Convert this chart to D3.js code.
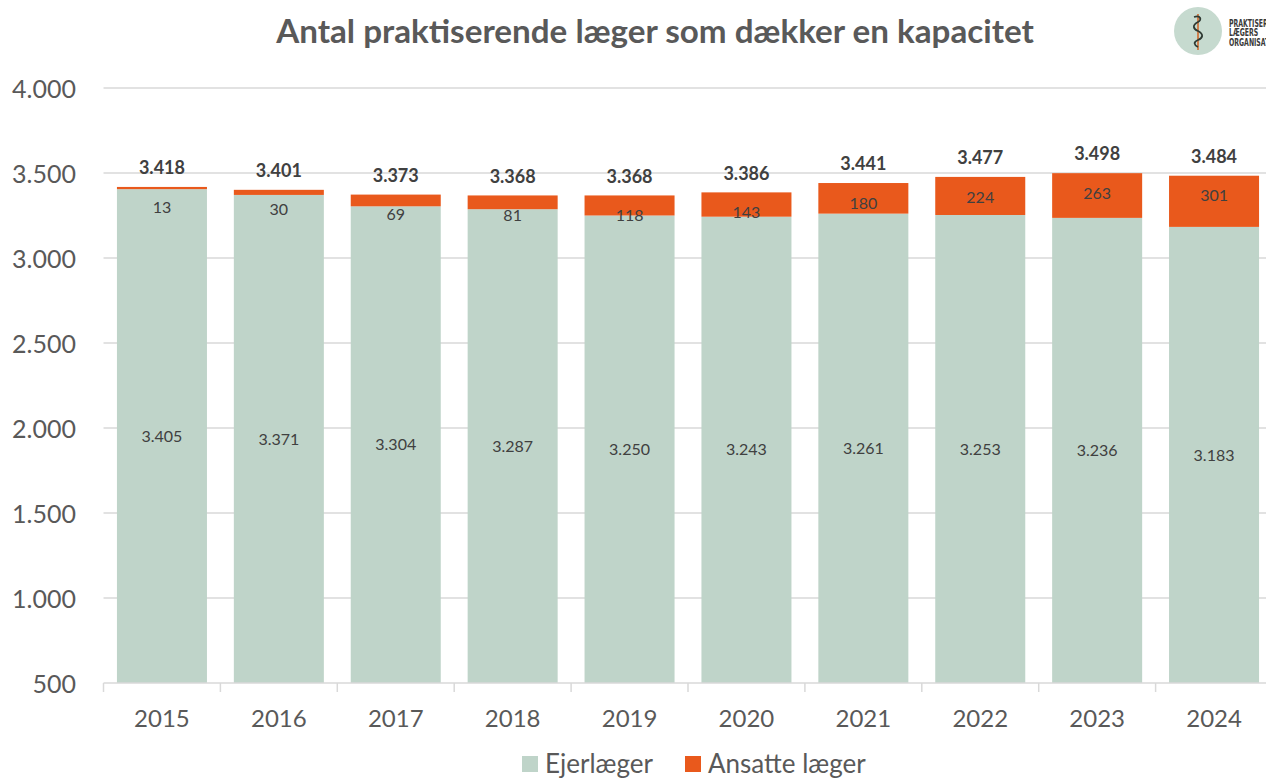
<!DOCTYPE html>
<html>
<head>
<meta charset="utf-8">
<script src="https://cdn.jsdelivr.net/npm/d3@7"></script>
<style>
  html, body { margin: 0; padding: 0; background: #fff; overflow: hidden; }
  svg { display: block; font-family: Lato, "Open Sans", sans-serif; }
</style>
</head>
<body>
<svg id="chart" width="1266" height="778"></svg>
<script>
// * chart data
const years = ['2015', '2016', '2017', '2018', '2019', '2020', '2021', '2022', '2023', '2024'];
const ejerlaeger = [3405, 3371, 3304, 3287, 3250, 3243, 3261, 3253, 3236, 3183];
const ansatte = [13, 30, 69, 81, 118, 143, 180, 224, 263, 301];
const totals = [3418, 3401, 3373, 3368, 3368, 3386, 3441, 3477, 3498, 3484];
const yTicks = [500, 1000, 1500, 2000, 2500, 3000, 3500, 4000];
const seriesNames = ['Ejerlæger', 'Ansatte læger'];

const colors = { ejer: '#bfd4c9', ansat: '#e9591c', text: '#595959', label: '#404040', grid: '#d9d9d9' };

const plot = { left: 103.5, right: 1272.5, top: 88, bottom: 683 };

// danish number format 3.418
const dk = d3.formatLocale({ decimal: ',', thousands: '.', grouping: [3], currency: ['', ' kr'] });
const fmt = dk.format(',d');

const svg = d3.select('#chart');

const xScale = d3.scaleBand()
  .domain(years)
  .range([plot.left, plot.right])
  .paddingInner(0.23)
  .paddingOuter(0.115);

const yScale = d3.scaleLinear()
  .domain([500, 4000])
  .range([plot.bottom, plot.top]);

// title
svg.append('text')
  .attr('x', 655).attr('y', 43)
  .attr('text-anchor', 'middle')
  .attr('font-size', 33.2).attr('font-weight', 700)
  .attr('fill', colors.text)
  .text('Antal praktiserende læger som dækker en kapacitet');

// gridlines
svg.append('g')
  .selectAll('line')
  .data(yTicks.filter((d) => d > 500))
  .enter()
  .append('line')
  .attr('x1', plot.left).attr('x2', 1266)
  .attr('y1', (d) => yScale(d)).attr('y2', (d) => yScale(d))
  .attr('stroke', colors.grid).attr('stroke-width', 1.5);

// y axis (labels only)
const yAxis = d3.axisLeft(yScale)
  .tickValues(yTicks)
  .tickSize(0)
  .tickPadding(0)
  .tickFormat(fmt);
const yAxisG = svg.append('g')
  .attr('transform', `translate(76,0)`)
  .call(yAxis);
yAxisG.select('.domain').remove();
yAxisG.selectAll('text')
  .attr('font-size', 25).attr('font-family', 'Lato, sans-serif')
  .attr('fill', colors.text).attr('dy', '0.36em');

// stacked bars
const stackData = years.map((y, i) => ({ year: y, ejer: ejerlaeger[i], ansat: ansatte[i], total: totals[i] }));
const stack = d3.stack().keys(['ejer', 'ansat'])(stackData);
const fills = [colors.ejer, colors.ansat];

svg.append('g')
  .selectAll('g')
  .data(stack)
  .enter()
  .append('g')
  .attr('fill', (d, i) => fills[i])
  .selectAll('rect')
  .data((d) => d)
  .enter()
  .append('rect')
  .attr('x', (d) => xScale(d.data.year))
  .attr('width', xScale.bandwidth())
  .attr('y', (d) => yScale(d[1]))
  .attr('height', (d) => yScale(Math.max(d[0], 500)) - yScale(d[1]));

// x axis
const xAxis = d3.axisBottom(xScale).tickSize(0).tickPadding(0);
const xAxisG = svg.append('g')
  .attr('transform', `translate(0,${plot.bottom})`)
  .call(xAxis);
xAxisG.select('.domain').remove();
xAxisG.selectAll('text')
  .attr('font-size', 24).attr('font-family', 'Lato, sans-serif')
  .attr('fill', colors.text).attr('y', 44).attr('dy', 0);

xAxisG.append('line')
  .attr('x1', plot.left).attr('x2', 1266)
  .attr('y1', 0).attr('y2', 0)
  .attr('stroke', colors.grid).attr('stroke-width', 1.5);

// boundary tick marks between categories
const step = xScale.step();
xAxisG.selectAll('.sep')
  .data(d3.range(years.length + 1))
  .enter()
  .append('line')
  .attr('x1', (i) => plot.left + i * step).attr('x2', (i) => plot.left + i * step)
  .attr('y1', 0).attr('y2', 9)
  .attr('stroke', colors.grid).attr('stroke-width', 1.5);

// data labels
const labels = svg.append('g').attr('text-anchor', 'middle');
const cx = (d) => xScale(d.year) + xScale.bandwidth() / 2;

labels.selectAll('.lbl-ejer')
  .data(stackData)
  .enter()
  .append('text')
  .attr('x', cx)
  .attr('y', (d) => (yScale(500) + yScale(d.ejer)) / 2)
  .attr('dy', '0.35em')
  .attr('font-size', 16).attr('fill', colors.label)
  .text((d) => fmt(d.ejer));

labels.selectAll('.lbl-ansat')
  .data(stackData)
  .enter()
  .append('text')
  .attr('x', cx)
  .attr('y', (d) => yScale(d.ejer + d.ansat) + 20)
  .attr('dy', '0.35em')
  .attr('font-size', 16).attr('fill', colors.label)
  .text((d) => fmt(d.ansat));

labels.selectAll('.lbl-total')
  .data(stackData)
  .enter()
  .append('text')
  .attr('x', cx)
  .attr('y', (d) => yScale(d.ejer + d.ansat) - 19)
  .attr('dy', '0.35em')
  .attr('font-size', 18).attr('font-weight', 700).attr('fill', colors.label)
  .text((d) => fmt(d.total));

// legend
const legend = svg.append('g').attr('transform', 'translate(522,764)');
const legendX = [0, 163];
seriesNames.forEach((name, i) => {
  const g = legend.append('g').attr('transform', `translate(${legendX[i]},0)`);
  g.append('rect').attr('x', 0).attr('y', -8).attr('width', 16).attr('height', 16).attr('fill', fills[i]);
  g.append('text').attr('x', 23).attr('y', 0).attr('dy', '0.36em')
    .attr('font-size', 26).attr('fill', colors.text).text(name);
});

// logo
const logo = svg.append('g').attr('transform', 'translate(1198,31)');
logo.append('circle').attr('r', 24).attr('fill', '#c6dacf');
logo.append('line').attr('x1', 0).attr('x2', 0).attr('y1', -17).attr('y2', 19)
  .attr('stroke', '#d0692e').attr('stroke-width', 1.6);
logo.append('path')
  .attr('d', 'M-4,-14 C3,-16 4,-11 0,-9 C-6,-6 -5,-2 0,0 C6,3 5,7 0,9 C-5,11 -4,14 0,16')
  .attr('fill', 'none').attr('stroke', '#2f3a33').attr('stroke-width', 1.8);
const logoText = svg.append('g')
  .attr('transform', 'translate(1229,0) scale(0.62,1)')
  .attr('font-family', '"DejaVu Sans", sans-serif')
  .attr('font-weight', 700).attr('font-size', 10).attr('fill', '#3a3a3a');
['PRAKTISERENDE', 'LÆGERS', 'ORGANISATION'].forEach((t, i) => {
  logoText.append('text').attr('x', 0).attr('y', 27 + i * 9.5).text(t);
});
</script>
</body>
</html>
